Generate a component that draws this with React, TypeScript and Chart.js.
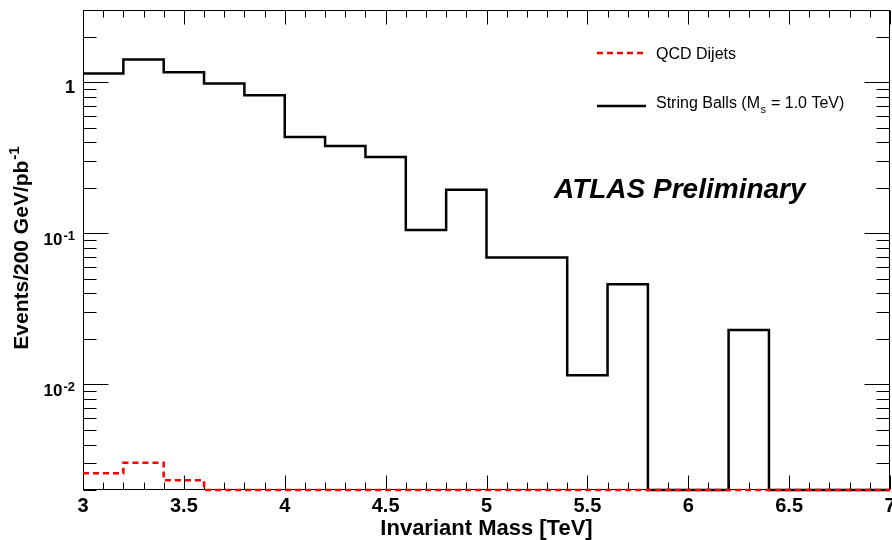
import { useEffect, useRef } from 'react';
import { Chart, registerables } from 'chart.js';

Chart.register(...registerables);

// ---- data ----
const BIN_EDGES = [3.0, 3.2, 3.4, 3.6, 3.8, 4.0, 4.2, 4.4, 4.6, 4.8, 5.0, 5.2, 5.4, 5.6, 5.8, 6.0, 6.2, 6.4, 6.6, 6.8, 7.0];
const STRING_BALLS = [1.14, 1.41, 1.16, 0.98, 0.82, 0.434, 0.378, 0.32, 0.105, 0.194, 0.069, 0.069, 0.0115, 0.0459, 0, 0, 0.0229, 0, 0, 0];
const QCD_DIJETS = [0.00258, 0.00303, 0.00232, 0, 0, 0, 0, 0, 0, 0, 0, 0, 0, 0, 0, 0, 0, 0, 0, 0];
const X_TICKS = [3, 3.5, 4, 4.5, 5, 5.5, 6, 6.5, 7];
const X_TICK_LABELS = ['3', '3.5', '4', '4.5', '5', '5.5', '6', '6.5', '7'];
const Y_DECADES = [1, 0.1, 0.01];
const Y_DECADE_EXP = [0, -1, -2];
const X_MIN = 3;
const X_MAX = 7;
const Y_MIN = 0.002;
const Y_MAX = 3;
const SERIES_LABELS = ['QCD Dijets', 'String Balls'];

const FONT = "'Liberation Sans', Arial, Helvetica, sans-serif";

function toSteps(values: number[]) {
  const pts = values.map((v, i) => ({ x: BIN_EDGES[i], y: v > 0 ? v : Y_MIN }));
  const last = values[values.length - 1];
  pts.push({ x: BIN_EDGES[values.length], y: last > 0 ? last : Y_MIN });
  return pts;
}

const rootStyle = {
  id: 'rootStyle',
  beforeDatasetsDraw(chart: any) {
    const { ctx, chartArea: a, scales } = chart;
    const xs = scales.x;
    const ys = scales.y;
    ctx.save();
    ctx.strokeStyle = '#000';
    ctx.lineWidth = 1;
    const L = Math.round(a.left) + 0.5;
    const R = Math.round(a.right) - 0.5;
    const T = Math.round(a.top) + 0.5;
    const B = Math.round(a.bottom) - 0.5;
    ctx.strokeRect(L, T, R - L, B - T);
    ctx.beginPath();
    // x ticks every 0.1, major every 0.5
    for (let i = 0; i <= 40; i++) {
      const v = X_MIN + i * 0.1;
      const px = Math.round(xs.getPixelForValue(v)) + 0.5;
      const len = i % 5 === 0 ? 14 : 7;
      ctx.moveTo(px, B);
      ctx.lineTo(px, B - len);
      ctx.moveTo(px, T);
      ctx.lineTo(px, T + len);
    }
    // y ticks (log)
    for (let e = -3; e <= 0; e++) {
      for (let k = 1; k <= 9; k++) {
        const v = k * Math.pow(10, e);
        if (v < Y_MIN * 0.999 || v > Y_MAX * 1.001) continue;
        const py = Math.round(ys.getPixelForValue(v)) + 0.5;
        const len = k === 1 ? 25 : 13;
        ctx.moveTo(L, py);
        ctx.lineTo(L + len, py);
        ctx.moveTo(R, py);
        ctx.lineTo(R - len, py);
      }
    }
    ctx.stroke();
    ctx.restore();
  },
  afterDatasetsDraw(chart: any) {
    const { ctx, chartArea: a, scales } = chart;
    const ys = scales.y;
    ctx.save();
    ctx.fillStyle = '#000';
    // y tick labels
    Y_DECADES.forEach((v, i) => {
      const py = ys.getPixelForValue(v);
      const exp = Y_DECADE_EXP[i];
      const right = a.left - 8;
      if (exp === 0) {
        ctx.font = `bold 18px ${FONT}`;
        ctx.textAlign = 'right';
        ctx.textBaseline = 'alphabetic';
        ctx.fillText('1', right, py + 11);
      } else {
        ctx.font = `bold 13px ${FONT}`;
        const sup = String(exp);
        const supW = ctx.measureText(sup).width;
        ctx.font = `bold 17px ${FONT}`;
        const baseW = ctx.measureText('10').width;
        const x0 = right - supW - baseW - 1;
        ctx.textAlign = 'left';
        ctx.textBaseline = 'alphabetic';
        ctx.fillText('10', x0, py + 12);
        ctx.font = `bold 13px ${FONT}`;
        ctx.fillText(sup, x0 + baseW + 1, py + 7);
      }
    });
    // y title
    ctx.save();
    ctx.translate(28, 248);
    ctx.rotate(-Math.PI / 2);
    ctx.font = `bold 21px ${FONT}`;
    const mainT = 'Events/200 GeV/pb';
    const mainW = ctx.measureText(mainT).width;
    ctx.font = `bold 15px ${FONT}`;
    const supT = '-1';
    const supW2 = ctx.measureText(supT).width;
    const total = mainW + 1 + supW2;
    ctx.textAlign = 'left';
    ctx.textBaseline = 'alphabetic';
    ctx.font = `bold 21px ${FONT}`;
    ctx.fillText(mainT, -total / 2, 0);
    ctx.font = `bold 15px ${FONT}`;
    ctx.fillText(supT, -total / 2 + mainW + 1, -9);
    ctx.restore();

    // legend
    const ds = chart.data.datasets;
    const legendRows = [
      { y: 53, textY: 53 },
      { y: 106, textY: 102 },
    ];
    ds.forEach((d: any, i: number) => {
      const row = legendRows[i];
      ctx.save();
      ctx.strokeStyle = d.borderColor;
      ctx.lineWidth = d.borderWidth;
      ctx.setLineDash(d.borderDash || []);
      ctx.beginPath();
      ctx.moveTo(597, row.y);
      ctx.lineTo(646, row.y);
      ctx.stroke();
      ctx.restore();
      ctx.fillStyle = '#000';
      ctx.textAlign = 'left';
      ctx.textBaseline = 'alphabetic';
      const base = row.textY + 6;
      if (i === 0) {
        ctx.font = `16px ${FONT}`;
        ctx.fillText(d.label, 656, base);
      } else {
        ctx.font = `16px ${FONT}`;
        const p1 = d.label + ' (M';
        ctx.fillText(p1, 656, base);
        let x = 656 + ctx.measureText(p1).width;
        ctx.font = `11px ${FONT}`;
        ctx.fillText('s', x + 0.5, base + 5);
        x += ctx.measureText('s').width + 1;
        ctx.font = `16px ${FONT}`;
        ctx.fillText(' = 1.0 TeV)', x, base);
      }
    });

    // ATLAS label
    ctx.font = `italic bold 28px ${FONT}`;
    ctx.textAlign = 'left';
    ctx.textBaseline = 'alphabetic';
    ctx.fillText('ATLAS Preliminary', 554, 198);
    ctx.restore();
  },
};

export default function App() {
  const ref = useRef<HTMLCanvasElement | null>(null);
  useEffect(() => {
    document.body.style.margin = '0';
    const canvas = ref.current;
    if (!canvas) return;
    const chart = new Chart(canvas, {
      type: 'line',
      data: {
        datasets: [
          {
            label: SERIES_LABELS[0],
            data: toSteps(QCD_DIJETS),
            borderColor: '#ff0000',
            borderWidth: 2.5,
            borderDash: [6, 4],
            stepped: true,
            pointRadius: 0,
            fill: false,
            clip: 4,
          },
          {
            label: SERIES_LABELS[1],
            data: toSteps(STRING_BALLS),
            borderColor: '#000000',
            borderWidth: 2.5,
            stepped: true,
            pointRadius: 0,
            fill: false,
            clip: 4,
          },
        ],
      } as any,
      options: {
        responsive: false,
        animation: false,
        layout: { padding: { top: 10, right: 2, left: 0, bottom: 0 } },
        plugins: { legend: { display: false }, tooltip: { enabled: false } },
        scales: {
          x: {
            type: 'linear',
            min: X_MIN,
            max: X_MAX,
            offset: false,
            afterBuildTicks: (s: any) => {
              s.ticks = X_TICKS.map((v) => ({ value: v }));
            },
            ticks: {
              autoSkip: false,
              maxRotation: 0,
              minRotation: 0,
              padding: 4,
              color: '#000',
              font: { family: FONT, size: 20, weight: 'bold' },
              callback: (v: any) => {
                const idx = X_TICKS.indexOf(Number(v));
                return idx >= 0 ? X_TICK_LABELS[idx] : '';
              },
            },
            grid: { display: false, drawTicks: false },
            border: { display: false },
            title: {
              display: true,
              text: 'Invariant Mass [TeV]',
              color: '#000',
              font: { family: FONT, size: 22, weight: 'bold' },
              padding: { top: 0, bottom: -2 },
            },
            afterFit: (s: any) => {
              s.height = 50;
              s.paddingLeft = 0;
              s.paddingRight = 0;
            },
          },
          y: {
            type: 'logarithmic',
            min: Y_MIN,
            max: Y_MAX,
            ticks: { display: false },
            grid: { display: false, drawTicks: false },
            border: { display: false },
            afterFit: (s: any) => {
              s.width = 83;
            },
          },
        },
      } as any,
      plugins: [rootStyle],
    });
    return () => chart.destroy();
  }, []);
  return <canvas ref={ref} width={892} height={540} style={{ display: 'block', width: 892, height: 540 }} />;
}
